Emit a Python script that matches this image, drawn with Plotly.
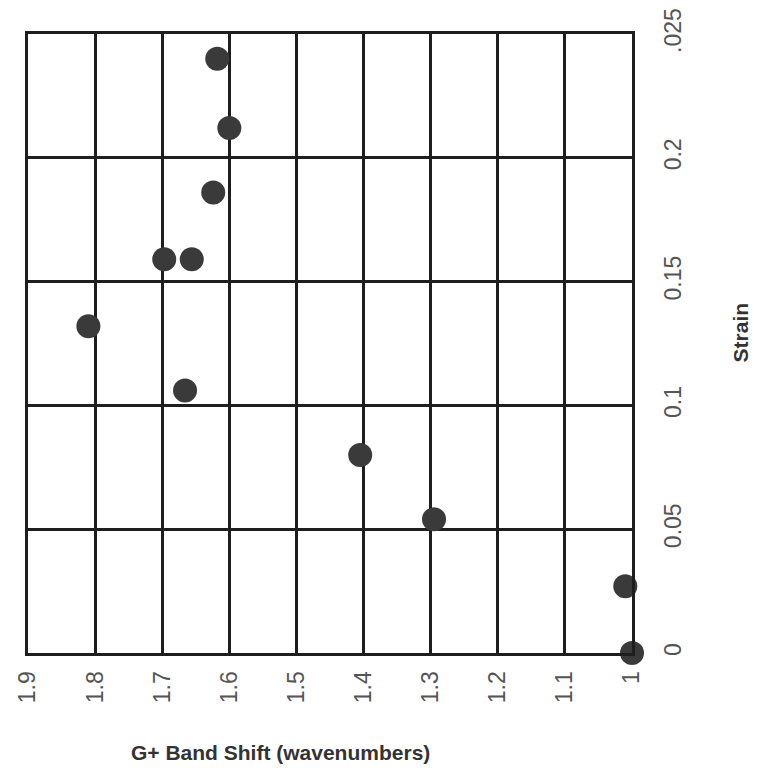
import plotly.graph_objects as go

# Data: G+ band shift (wavenumbers) vs strain
g_shift = [1.0, 1.01, 1.295, 1.405, 1.666, 1.81, 1.697, 1.656, 1.624, 1.60, 1.618]
strain = [0.0, 0.027, 0.054, 0.080, 0.106, 0.132, 0.159, 0.159, 0.186, 0.212, 0.240]

x_tickvals = [1.9, 1.8, 1.7, 1.6, 1.5, 1.4, 1.3, 1.2, 1.1, 1.0]
x_ticktext = ["1.9", "1.8", "1.7", "1.6", "1.5", "1.4", "1.3", "1.2", "1.1", "1"]
y_tickvals = [0, 0.05, 0.1, 0.15, 0.2, 0.25]
y_ticktext = ["0", "0.05", "0.1", "0.15", "0.2", ".025"]

x_title = "G+ Band Shift (wavenumbers)"
y_title = "Strain"

grid_color = "#1e1e1e"
tick_font = dict(family="Liberation Sans, Arial, sans-serif", size=23, color="#555555")

fig = go.Figure()
fig.add_trace(go.Scatter(
    x=g_shift, y=strain, mode="markers",
    marker=dict(size=24, color="#3a3a3a", line=dict(width=0)),
    cliponaxis=False, showlegend=False,
))

fig.update_xaxes(
    range=[1.9, 1.0], tickvals=x_tickvals, ticktext=x_ticktext,
    tickangle=-90, tickfont=tick_font, ticklabelstandoff=6,
    showgrid=True, gridcolor=grid_color, gridwidth=3,
    showline=True, linecolor=grid_color, linewidth=3, mirror=True,
    zeroline=False, ticks="", automargin=False,
)
fig.update_yaxes(
    range=[0, 0.25], tickvals=y_tickvals, ticktext=y_ticktext, side="right",
    tickangle=-90, tickfont=tick_font, ticklabelstandoff=18,
    showgrid=True, gridcolor=grid_color, gridwidth=3,
    showline=True, linecolor=grid_color, linewidth=3, mirror=True,
    zeroline=False, ticks="", automargin=False,
)

fig.add_annotation(
    text="<b>" + x_title + "</b>", xref="paper", yref="paper", x=0.418, y=-0.16,
    showarrow=False, xanchor="center", yanchor="middle",
    font=dict(family="Liberation Sans, Arial, sans-serif", size=21, color="#333333"),
)
fig.add_annotation(
    text="<b>" + y_title + "</b>", xref="paper", yref="paper", x=1.179, y=0.518,
    showarrow=False, xanchor="center", yanchor="middle", textangle=-90,
    font=dict(family="Liberation Sans, Arial, sans-serif", size=21, color="#333333"),
)

fig.update_layout(
    width=746, height=766,
    margin=dict(l=20, r=122, t=26, b=121),
    plot_bgcolor="white", paper_bgcolor="white",
    showlegend=False,
)

fig.write_html("out.html")
